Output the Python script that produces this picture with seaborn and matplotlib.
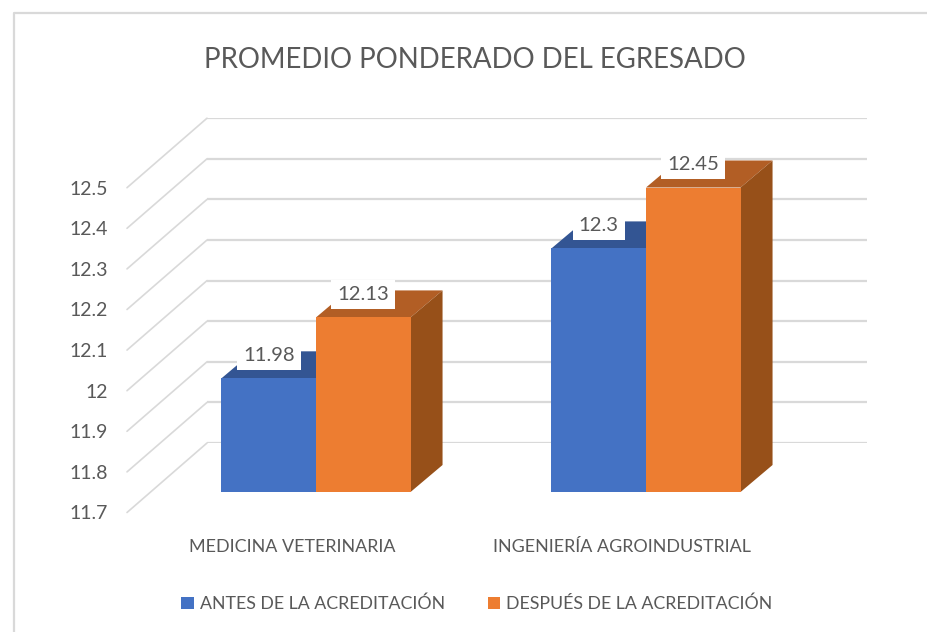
import pandas as pd
import numpy as np
import matplotlib
matplotlib.use('Agg')
import matplotlib.pyplot as plt
from matplotlib.lines import Line2D
from matplotlib.patches import Polygon, Rectangle
import seaborn as sns

# Chart values
carreras = ['MEDICINA VETERINARIA', 'INGENIERÍA AGROINDUSTRIAL']
periodos = ['ANTES DE LA ACREDITACIÓN', 'DESPUÉS DE LA ACREDITACIÓN']
antes = [11.98, 12.30]
despues = [12.13, 12.45]
etiquetas_antes = ['11.98', '12.3']
etiquetas_despues = ['12.13', '12.45']
eje_y = [11.7, 11.8, 11.9, 12.0, 12.1, 12.2, 12.3, 12.4, 12.5]
eje_y_txt = ['11.7', '11.8', '11.9', '12', '12.1', '12.2', '12.3', '12.4', '12.5']

W, H = 927, 632
GRIS = '#595959'
GRID = '#d9d9d9'

sns.set_theme(style='white')
plt.rcParams['font.family'] = ['Lato', 'DejaVu Sans']

df = pd.DataFrame({
    'carrera': carreras * 2,
    'periodo': [periodos[0]] * 2 + [periodos[1]] * 2,
    'promedio': antes + despues,
})

fig = plt.figure(figsize=(W / 100, H / 100), dpi=100, facecolor='white')


def add_plane(dx, dy, zorder):
    # axes aligned with the bar plane, shifted in pixels for the fake depth
    a = fig.add_axes([(151 + dx) / W, (H - 492 + dy) / H, 660 / W, 324.8 / H], zorder=zorder)
    a.set_xlim(-0.5, 1.5)
    a.set_ylim(eje_y[0], eje_y[-1])
    a.patch.set_alpha(0)
    sns.despine(ax=a, left=True, bottom=True)
    return a


# back wall with the gridlines
back = add_plane(56, 49, 1)
back.set_yticks(eje_y)
back.set_xticks([])
back.tick_params(left=False, labelleft=False)
back.grid(axis='y', color=GRID, lw=1.6)
for s in back.spines.values():
    s.set_visible(False)

# front plane, holds tick labels
front = add_plane(-24, -20.5, 2)
front.set_yticks(eje_y)
front.set_yticklabels(eje_y_txt, fontsize=14, color=GRIS)
front.set_xticks([0, 1])
front.set_xticklabels(carreras, fontsize=12.9, color=GRIS)
front.tick_params(axis='y', left=False, pad=8)
front.tick_params(axis='x', bottom=False, pad=13)
for s in front.spines.values():
    s.set_visible(False)

# bars
ax = add_plane(0, 0, 3)
sns.barplot(data=df, x='carrera', y='promedio', hue='periodo', hue_order=periodos,
            order=carreras, palette=['#4472C4', '#ED7D31'], width=0.573, gap=0,
            saturation=1, linewidth=0, ax=ax)
ax.set_xlim(-0.5, 1.5)
ax.set_ylim(eje_y[0], eje_y[-1])
ax.set_xlabel('')
ax.set_ylabel('')
ax.set_xticks([])
ax.set_yticks([])
for s in ax.spines.values():
    s.set_visible(False)
handles, labels = ax.get_legend_handles_labels()
ax.get_legend().remove()

# diagonals of the side wall
for v in eje_y:
    p0 = front.transData.transform((-0.5, v))
    p1 = back.transData.transform((-0.5, v))
    fig.add_artist(Line2D([p0[0] / W, p1[0] / W], [p0[1] / H, p1[1] / H],
                          transform=fig.transFigure, color=GRID, lw=1.2, zorder=0.5))

# top and side faces from the real bars
DX, DY = 32, 27
barras = [p for p in ax.patches if p.get_height() > 0]
barras = sorted(barras, key=lambda p: p.get_x())
tapa = {'#4472C4': '#335593', '#ED7D31': '#B25E25'}
colores = ['#4472C4', '#ED7D31', '#4472C4', '#ED7D31']
for b, c in zip(barras, colores):
    x0, top = ax.transData.transform((b.get_x(), b.get_height()))
    x1, base = ax.transData.transform((b.get_x() + b.get_width(), eje_y[0]))
    ax.add_patch(Polygon([(x0, top), (x1, top), (x1 + DX, top + DY), (x0 + DX, top + DY)],
                         closed=True, transform=None, fc=tapa[c], ec='none', zorder=1,
                         clip_on=False))
    if c == '#ED7D31':
        ax.add_patch(Polygon([(x1, top), (x1 + DX, top + DY), (x1 + DX, base + DY), (x1, base)],
                             closed=True, transform=None, fc='#975019', ec='none', zorder=1,
                             clip_on=False))
    b.set_zorder(2)

# value labels on white boxes
for b, txt in zip(barras, [etiquetas_antes[0], etiquetas_despues[0], etiquetas_antes[1], etiquetas_despues[1]]):
    ax.annotate(txt, xy=(b.get_x() + b.get_width() / 2, b.get_height()),
                xytext=(0, 23), textcoords='offset pixels', ha='center', va='center',
                fontsize=14.6, color=GRIS, zorder=5,
                bbox=dict(boxstyle='square,pad=0.3', fc='white', ec='none'))

fig.text(475 / W, 1 - 60 / H, 'PROMEDIO PONDERADO DEL EGRESADO', ha='center', va='center',
         fontsize=19.9, color=GRIS)

fig.legend(handles, labels, loc='center', bbox_to_anchor=(477 / W, 1 - 604 / H), ncol=2,
           frameon=False, fontsize=12.8, labelcolor=GRIS, handlelength=0.7, handleheight=0.7,
           handletextpad=0.35, columnspacing=2.4)

# chart frame
fig.add_artist(Line2D([13.5 / W, 13.5 / W, 1], [0, 1 - 12.5 / H, 1 - 12.5 / H],
                      transform=fig.transFigure, color=GRID, lw=1.6))

fig.savefig('out.png', dpi=100, facecolor='white')
